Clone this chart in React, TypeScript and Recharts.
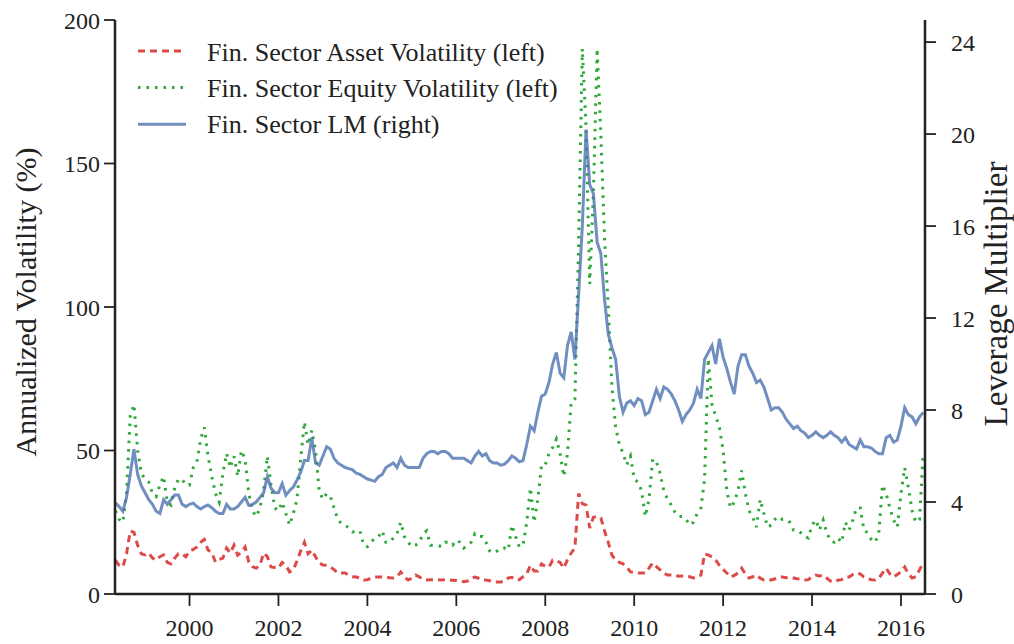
import React from "react";
import { LineChart, Line, XAxis, YAxis } from "recharts";

const FONT = '"Liberation Serif", "Times New Roman", serif';
const INK = "#222";

// monthly observations, May 1998 .. Jul 2016
const assetVol = [
  11.8, 10, 9.4, 14, 22, 21.5, 17, 14, // 1998
  13.6, 14.3, 12.5, 11.8, 13, 13.6, 11, 10.5, 12.5, 14, 14, 13, // 1999
  15, 15.5, 16.4, 18, 19, 15.3, 14.5, 11.1, 12, 12.5, 16, 14.3, // 2000
  17, 13.5, 14.6, 16.4, 11.1, 9.5, 9, 10, 14.3, 13, 9.4, 9.2, // 2001
  9, 11, 10, 7.7, 8.4, 11.5, 15, 18, 14, 15.3, 13, 10.8, // 2002
  10.1, 10, 9.4, 8.5, 7.3, 7.3, 7.3, 6.5, 6, 5.9, 5.5, 4.9, // 2003
  5, 5.5, 5.9, 5.9, 5.9, 5.9, 5.7, 5.6, 6, 7.7, 6, 4.9, // 2004
  5.5, 6.6, 6, 5, 4.9, 5, 5, 5, 4.9, 5, 4.9, 4.8, // 2005
  4.7, 4.5, 4.3, 4.5, 5.5, 5.9, 5.5, 4.9, 4.9, 4.6, 4.2, 4.2, // 2006
  4.2, 4.5, 5.6, 5.8, 5, 5, 6, 7, 10, 8, 8, 10.5, // 2007
  9.6, 9.4, 11.8, 11.5, 11, 9, 12, 14.3, 16, 35, 31.5, 31, // 2008
  23, 26.7, 27, 26.5, 22, 18, 13.5, 12, 11, 10.5, 9.4, 7.7, // 2009
  7.5, 7.3, 7.3, 7.3, 9, 10.8, 9.5, 8.4, 7.2, 6.6, 6.6, 6.6, // 2010
  6.2, 6.3, 6.2, 6, 5.6, 5.8, 6.6, 14, 13.6, 12.9, 11.8, 10, // 2011
  8.6, 7.3, 5.9, 6.5, 7.3, 9, 7, 5.6, 6, 6.6, 5.5, 4.9, // 2012
  5, 4.9, 5.3, 5.9, 5.9, 5.7, 5.9, 5.6, 5.3, 5.2, 4.9, 5, // 2013
  6, 6.6, 6.3, 6.6, 5.5, 4.5, 4.2, 4.8, 5, 5.9, 5.9, 6.8, // 2014
  7.3, 7, 5.9, 5.4, 5, 4.9, 5.5, 7.3, 9, 7, 5.9, 6.8, // 2015
  7.7, 9.4, 7, 5.6, 6, 8.4, 10.8, // 2016
];

const equityVol = [
  29, 26, 25, 35, 62, 66, 50, 42, // 1998
  40, 39, 35, 34, 38, 41, 32, 31, 37, 40, 40, 38, // 1999
  38, 44, 46, 54, 58, 48, 41, 35, 32, 42, 49, 44, // 2000
  48, 41, 50, 47, 35, 29, 27, 30, 36, 48, 38, 30, // 2001
  29, 32, 28, 24, 28, 33, 47, 60, 52, 57, 50, 36, // 2002
  33, 35, 34, 30, 26, 24.5, 24, 23, 21.6, 22, 22, 17, // 2003
  16.5, 18, 19.5, 20, 22, 18, 18, 19.5, 21, 25, 20, 18, // 2004
  16.5, 17, 18, 21, 22, 17, 17, 17, 16.5, 18, 18, 17, // 2005
  18.8, 18, 16, 17, 18, 21, 20, 20, 18, 15, 14.3, 15, // 2006
  16, 16, 15.3, 24, 20, 16.4, 17, 25, 37, 25, 33, 45, // 2007
  45, 49, 51, 54, 49, 41, 49, 67, 68, 122, 190, 163, // 2008
  108, 140, 190, 160, 124, 100, 72, 58, 52, 49, 45, 48, // 2009
  40, 39, 36, 27, 33, 47, 46, 42, 36, 33, 31, 28.5, // 2010
  27, 27, 26, 24, 25, 28, 30, 40, 82, 66, 62, 58, // 2011
  50, 36, 30, 32, 36, 43, 35, 29, 26.8, 23.3, 33, 28, // 2012
  23.3, 24, 26, 27, 26, 26, 25, 22.3, 22.3, 21.3, 20, 19.5, // 2013
  24, 25.8, 22.3, 25.8, 21.3, 18.5, 18, 19.5, 18, 25, 22.3, 25.8, // 2014
  30, 30, 22.3, 21.3, 19, 18, 21, 38, 35, 30, 25.8, 23.3, // 2015
  35, 44, 37, 29, 25, 26, 49, // 2016
];

const leverage = [
  3.96, 3.8, 3.6, 4.2, 5.2, 6.3, 5.2, 4.7, // 1998
  4.4, 4.1, 3.9, 3.6, 3.5, 4.1, 3.9, 4.1, 4.3, 4.3, 3.9, 3.8, // 1999
  3.9, 3.95, 3.8, 3.7, 3.8, 3.87, 3.75, 3.6, 3.5, 3.5, 3.9, 3.7, // 2000
  3.7, 3.8, 4.0, 4.2, 3.85, 3.9, 4.0, 4.2, 4.4, 5.1, 4.6, 4.4, // 2001
  4.4, 4.8, 4.3, 4.5, 4.65, 4.95, 5.3, 5.8, 5.8, 6.8, 5.7, 5.6, // 2002
  6.0, 6.4, 6.3, 5.9, 5.7, 5.6, 5.5, 5.45, 5.4, 5.25, 5.2, 5.1, // 2003
  5.0, 4.95, 4.9, 5.1, 5.2, 5.5, 5.6, 5.7, 5.5, 5.9, 5.6, 5.5, // 2004
  5.5, 5.5, 5.5, 5.9, 6.1, 6.2, 6.2, 6.1, 6.2, 6.2, 6.1, 5.9, // 2005
  5.9, 5.9, 5.9, 5.8, 5.7, 6.0, 6.2, 6.0, 6.1, 5.8, 5.7, 5.7, // 2006
  5.6, 5.65, 5.8, 6.0, 5.9, 5.75, 5.8, 6.5, 7.3, 7.1, 7.9, 8.6, // 2007
  8.7, 9.2, 10.0, 10.5, 9.6, 9.4, 10.8, 11.4, 10.2, 13.0, 16.0, 20.2, // 2008
  17.8, 17.4, 15.3, 14.8, 12.8, 11.3, 10.7, 10.2, 8.6, 7.9, 8.3, 8.4, // 2009
  8.2, 8.5, 8.4, 7.8, 7.9, 8.4, 8.9, 8.5, 9.0, 8.9, 8.7, 8.4, // 2010
  8.0, 7.5, 7.8, 8.0, 8.3, 8.9, 8.5, 10.2, 10.5, 10.8, 10.0, 11.1, // 2011
  10.3, 9.8, 9.2, 8.7, 9.9, 10.4, 10.4, 9.9, 9.6, 9.2, 9.3, 9.0, // 2012
  8.5, 8.0, 8.1, 8.1, 7.9, 7.6, 7.4, 7.2, 7.3, 7.1, 7.0, 6.8, // 2013
  6.9, 7.05, 6.9, 6.8, 6.9, 7.05, 6.9, 6.8, 6.6, 6.8, 6.5, 6.4, // 2014
  6.3, 6.7, 6.4, 6.4, 6.35, 6.2, 6.1, 6.1, 6.8, 6.9, 6.6, 6.7, // 2015
  7.3, 8.1, 7.8, 7.7, 7.4, 7.7, 7.9, // 2016
];

const yearTicks = [2000, 2002, 2004, 2006, 2008, 2010, 2012, 2014, 2016];
const volTicks = [0, 50, 100, 150, 200];
const lmTicks = [0, 4, 8, 12, 16, 20, 24];

const legendItems = [
  { label: "Fin. Sector Asset Volatility (left)", color: "#dd4b48", dash: "7 5", opacity: 1 },
  { label: "Fin. Sector Equity Volatility (left)", color: "#2ea83a", dash: "2.5 6", opacity: 1 },
  { label: "Fin. Sector LM (right)", color: "#4c72b0", dash: undefined, opacity: 0.8 },
];

// month index from Jan 1998; first observation is May 1998
const data = assetVol.map((v, i) => ({
  t: 1998 + (4 + i) / 12,
  asset: v,
  equity: equityVol[i],
  lm: leverage[i],
}));

const tickStyle = { fill: INK, fontSize: 24, fontFamily: FONT };
const axisLine = { stroke: INK, strokeWidth: 2.5 };
const tickLine = { stroke: INK, strokeWidth: 1.8 };

export default function App() {
  return (
    <div style={{ position: "absolute", left: 0, top: 0, width: 1014, height: 644, background: "#fff" }}>
      <LineChart width={1014} height={644} data={data} margin={{ top: 20, right: 0, bottom: 0, left: 0 }}>
        <XAxis
          dataKey="t"
          type="number"
          domain={[1998.324, 2016.54]}
          ticks={yearTicks}
          interval={0}
          allowDataOverflow
          height={50}
          tickSize={12}
          tickMargin={13}
          tick={tickStyle}
          axisLine={axisLine}
          tickLine={tickLine}
        />
        <YAxis
          yAxisId="left"
          domain={[0, 200]}
          ticks={volTicks}
          interval={0}
          width={115}
          tickSize={11}
          tickMargin={4}
          tick={tickStyle}
          axisLine={axisLine}
          tickLine={tickLine}
        />
        <YAxis
          yAxisId="right"
          orientation="right"
          domain={[0, 24.96]}
          ticks={lmTicks}
          interval={0}
          width={89}
          tickSize={11}
          tickMargin={15}
          tick={tickStyle}
          axisLine={axisLine}
          tickLine={tickLine}
        />
        <Line
          yAxisId="left"
          type="linear"
          dataKey="asset"
          stroke={legendItems[0].color}
          strokeWidth={3}
          strokeDasharray={legendItems[0].dash}
          dot={false}
          isAnimationActive={false}
        />
        <Line
          yAxisId="left"
          type="linear"
          dataKey="equity"
          stroke={legendItems[1].color}
          strokeWidth={3}
          strokeDasharray={legendItems[1].dash}
          dot={false}
          isAnimationActive={false}
        />
        <Line
          yAxisId="right"
          type="linear"
          dataKey="lm"
          stroke={legendItems[2].color}
          strokeOpacity={0.8}
          strokeWidth={3}
          dot={false}
          isAnimationActive={false}
        />
      </LineChart>
      <svg
        width={1014}
        height={644}
        style={{ position: "absolute", left: 0, top: 0, pointerEvents: "none" }}
        fontFamily={FONT}
      >
        {legendItems.map((it, i) => (
          <g key={it.label}>
            <line
              x1={138}
              x2={186}
              y1={51 + i * 36.6}
              y2={51 + i * 36.6}
              stroke={it.color}
              strokeOpacity={it.opacity}
              strokeWidth={3}
              strokeDasharray={it.dash}
            />
            <text x={207} y={61 + i * 36} fontSize={26} fill={INK}>
              {it.label}
            </text>
          </g>
        ))}
        <text transform="translate(36,302) rotate(-90)" textAnchor="middle" fontSize={30} fill={INK}>
          Annualized Volatility (%)
        </text>
        <text transform="translate(1007,294) rotate(-90)" textAnchor="middle" fontSize={33} fill={INK}>
          Leverage Multiplier
        </text>
      </svg>
    </div>
  );
}
